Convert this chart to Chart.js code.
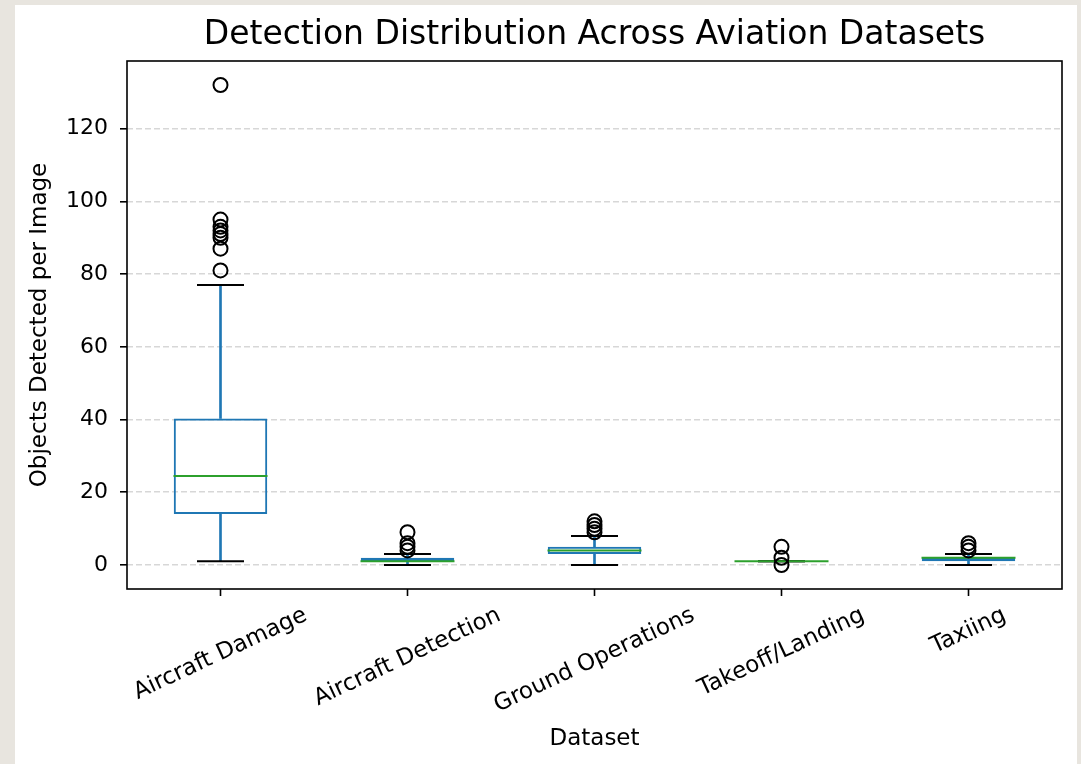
<!DOCTYPE html>
<html>
<head>
<meta charset="utf-8">
<title>Detection Distribution Across Aviation Datasets</title>
<script src="https://cdn.jsdelivr.net/npm/chart.js@4.4.1/dist/chart.umd.min.js"></script>
<style>
    html, body { margin: 0; padding: 0; background: #e8e5df; }
    #wrap {
        position: absolute;
        left: 15px;
        top: 5px;
        width: 1062px;
        height: 759px;
        background: #ffffff;
    }
</style>
</head>
<body>
<div id="wrap"><canvas id="boxChart"></canvas></div>
<script>
// Dados (quartis, bigodes e outliers por dataset)
const categories = ['Aircraft Damage', 'Aircraft Detection', 'Ground Operations', 'Takeoff/Landing', 'Taxiing'];
const whiskerLow = [1, 0, 0, 1, 0];
const q1 = [14, 1, 3, 1, 1];
const median = [24.5, 1, 4, 1, 2];
const q3 = [40.3, 2, 5, 1, 2];
const whiskerHigh = [77, 3, 8, 1, 3];
const outliers = [
    [81, 87, 90, 91, 92, 93, 95, 132],
    [4, 5, 6, 9],
    [9, 10, 11, 12],
    [0, 2, 5],
    [4, 5, 6]
];
const yTicks = [0, 20, 40, 60, 80, 100, 120];
const yMin = -6.6;
const yMax = 138.6;

const FONT = 'DejaVu Sans';
const BLUE = '#1f77b4';
const GREEN = '#2ca02c';

// Rótulos do eixo x inclinados, centralizados como no matplotlib
const rotatedLabels = {
    id: 'rotatedLabels',
    afterDraw(chart) {
        const ctx = chart.ctx;
        const xScale = chart.scales.x;
        const angle = 25 * Math.PI / 180;
        const size = 23;
        ctx.save();
        ctx.font = size + 'px "' + FONT + '"';
        ctx.fillStyle = '#000';
        ctx.textAlign = 'center';
        ctx.textBaseline = 'middle';
        const top = chart.chartArea.bottom + 13;
        categories.forEach((label, i) => {
            const x = xScale.getPixelForTick(i);
            const w = ctx.measureText(label).width;
            const h = size * 1.17;
            const boxH = w * Math.sin(angle) + h * Math.cos(angle);
            ctx.save();
            ctx.translate(x, top + boxH / 2);
            ctx.rotate(-angle);
            ctx.fillText(label, 0, 0);
            ctx.restore();
        });
        ctx.restore();
    }
};

// Moldura completa da área do gráfico
const frame = {
    id: 'frame',
    afterDatasetsDraw(chart) {
        const {ctx, chartArea} = chart;
        ctx.save();
        ctx.strokeStyle = '#000';
        ctx.lineWidth = 1.6;
        ctx.strokeRect(chartArea.left, chartArea.top, chartArea.right - chartArea.left, chartArea.bottom - chartArea.top);
        ctx.restore();
    }
};

const outlierPoints = [];
outliers.forEach((list, i) => {
    list.forEach(v => outlierPoints.push({ x: categories[i], y: v }));
});

const capPoints = [];
categories.forEach((c, i) => {
    capPoints.push({ x: c, y: whiskerLow[i] });
    capPoints.push({ x: c, y: whiskerHigh[i] });
});

const ctx = document.getElementById('boxChart').getContext('2d');
const boxChart = new Chart(ctx, {
    type: 'bar',
    data: {
        labels: categories,
        datasets: [
            {
                label: 'box',
                data: categories.map((_, i) => [q1[i], q3[i]]),
                backgroundColor: 'rgba(0,0,0,0)',
                borderColor: BLUE,
                borderWidth: 2,
                borderSkipped: false,
                barPercentage: 0.5,
                categoryPercentage: 1.0,
                grouped: false,
                order: 5
            },
            {
                label: 'whisker low',
                data: categories.map((_, i) => [whiskerLow[i], q1[i]]),
                backgroundColor: BLUE,
                borderWidth: 0,
                barThickness: 2,
                grouped: false,
                order: 6
            },
            {
                label: 'whisker high',
                data: categories.map((_, i) => [q3[i], whiskerHigh[i]]),
                backgroundColor: BLUE,
                borderWidth: 0,
                barThickness: 2,
                grouped: false,
                order: 6
            },
            {
                type: 'line',
                label: 'caps',
                data: capPoints,
                showLine: false,
                pointStyle: 'line',
                pointRadius: 23.5,
                borderColor: '#000',
                pointBorderWidth: 2,
                order: 4
            },
            {
                type: 'line',
                label: 'median',
                data: median,
                showLine: false,
                pointStyle: 'line',
                pointRadius: 47,
                borderColor: GREEN,
                pointBorderWidth: 2,
                order: 3
            },
            {
                type: 'line',
                label: 'outliers',
                data: outlierPoints,
                showLine: false,
                pointStyle: 'circle',
                pointRadius: 7,
                pointBackgroundColor: 'rgba(0,0,0,0)',
                pointBorderColor: '#000',
                pointBorderWidth: 2,
                order: 1
            }
        ]
    },
    options: {
        responsive: true,
        maintainAspectRatio: false,
        animation: false,
        events: [],
        layout: {
            autoPadding: false,
            padding: { left: 0, right: 15, top: 0, bottom: 0 }
        },
        plugins: {
            legend: { display: false },
            tooltip: { enabled: false },
            title: {
                display: true,
                text: 'Detection Distribution Across Aviation Datasets',
                fullSize: false,
                color: '#000',
                font: { family: FONT, size: 33, weight: 'normal' },
                padding: { top: 11, bottom: 5.4 }
            }
        },
        scales: {
            x: {
                type: 'category',
                offset: true,
                afterFit: scale => {
                    scale.height = 175;
                    scale.paddingLeft = 0;
                    scale.paddingRight = 0;
                },
                grid: {
                    offset: false,
                    drawOnChartArea: false,
                    drawTicks: true,
                    tickLength: 7,
                    tickColor: '#000',
                    tickWidth: 1.6
                },
                border: { display: false },
                ticks: { display: false },
                title: {
                    display: true,
                    text: 'Dataset',
                    color: '#000',
                    font: { family: FONT, size: 23 },
                    padding: { top: 0, bottom: 11 }
                }
            },
            y: {
                min: yMin,
                max: yMax,
                afterFit: scale => { scale.width = 112; },
                afterBuildTicks: scale => {
                    scale.ticks = yTicks.map(v => ({ value: v }));
                },
                grid: {
                    color: 'rgba(176,176,176,0.5)',
                    lineWidth: 1.6,
                    drawTicks: true,
                    tickLength: 7,
                    tickColor: '#000',
                    tickWidth: 1.6,
                    tickBorderDash: []
                },
                border: { display: false, dash: [6, 3] },
                ticks: {
                    color: '#000',
                    padding: 12,
                    font: { family: FONT, size: 22 }
                },
                title: {
                    display: true,
                    text: 'Objects Detected per Image',
                    color: '#000',
                    font: { family: FONT, size: 23 },
                    padding: { top: 11, bottom: 0 }
                }
            }
        }
    },
    plugins: [rotatedLabels, frame]
});
</script>
</body>
</html>
